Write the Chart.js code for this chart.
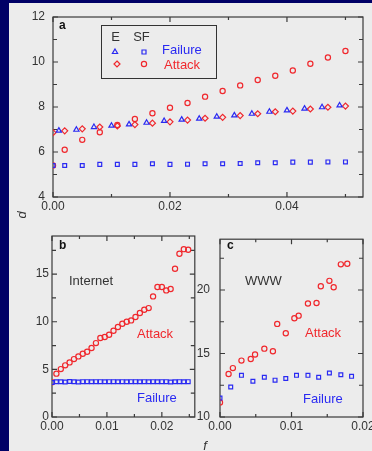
<!DOCTYPE html>
<html>
<head>
<meta charset="utf-8">
<script src="https://cdn.jsdelivr.net/npm/chart.js@4.4.1/dist/chart.umd.min.js"></script>
<style>
  html, body { margin: 0; padding: 0; }
  body { width: 372px; height: 451px; background: #000066; position: relative; overflow: hidden; }
  #paper { position: absolute; left: 9px; top: 3px; right: 0; bottom: 0; background: #ececec; }
  canvas { position: absolute; }
</style>
</head>
<body>
<div id="paper"></div>
<canvas id="panelA" width="372" height="222" style="left:0;top:0"></canvas>
<canvas id="panelB" width="200" height="229" style="left:0;top:222px"></canvas>
<canvas id="panelC" width="197" height="229" style="left:188px;top:222px"></canvas>
<script>
// panel a: exponential (E) vs scale-free (SF) network
const aFailF = [0.001, 0.004, 0.007, 0.010, 0.013, 0.016, 0.019, 0.022, 0.025, 0.028, 0.031, 0.034, 0.037, 0.040, 0.043, 0.046, 0.049]
const aEFailure = [6.95, 6.99, 7.11, 7.17, 7.23, 7.30, 7.38, 7.44, 7.48, 7.57, 7.63, 7.70, 7.79, 7.85, 7.93, 7.99, 8.07]
const aF = [0, 0.002, 0.005, 0.008, 0.011, 0.014, 0.017, 0.020, 0.023, 0.026, 0.029, 0.032, 0.035, 0.038, 0.041, 0.044, 0.047, 0.050]
const aEAttack = [6.86, 6.94, 7.03, 7.11, 7.16, 7.22, 7.28, 7.34, 7.42, 7.50, 7.54, 7.62, 7.70, 7.79, 7.82, 7.91, 7.99, 8.04]
const aSFFailure = [5.40, 5.40, 5.40, 5.45, 5.45, 5.45, 5.48, 5.45, 5.46, 5.48, 5.48, 5.49, 5.52, 5.52, 5.55, 5.55, 5.56, 5.56]
const aSFAttack = [5.40, 6.10, 6.54, 6.88, 7.20, 7.47, 7.72, 7.97, 8.18, 8.46, 8.71, 8.96, 9.20, 9.39, 9.62, 9.92, 10.20, 10.49]

// panel b: Internet
const bF = [0, 0.0008, 0.0016, 0.0024, 0.0032, 0.0040, 0.0048, 0.0056, 0.0064, 0.0072, 0.0080, 0.0088, 0.0096, 0.0104, 0.0112, 0.0120,
  0.0128, 0.0136, 0.0144, 0.0152, 0.0160, 0.0168, 0.0176, 0.0184, 0.0192, 0.0200, 0.0208, 0.0216, 0.0224, 0.0232, 0.0240, 0.0248]
const bAttack = [3.65, 4.55, 5.03, 5.42, 5.73, 6.08, 6.36, 6.64, 6.85, 7.24, 7.76, 8.29, 8.39, 8.64, 9.06, 9.44,
  9.79, 10.00, 10.14, 10.49, 10.91, 11.26, 11.43, 12.66, 13.64, 13.64, 13.29, 13.43, 15.56, 17.13, 17.62, 17.55]
const bFailure = [3.62, 3.70, 3.70, 3.68, 3.72, 3.70, 3.68, 3.71, 3.71, 3.70, 3.71, 3.71, 3.70, 3.71, 3.71, 3.70,
  3.71, 3.70, 3.71, 3.71, 3.70, 3.71, 3.70, 3.71, 3.70, 3.71, 3.71, 3.68, 3.70, 3.71, 3.70, 3.71]

// panel c: WWW
const cAttackF = [0, 0.0012, 0.0018, 0.0030, 0.0043, 0.0049, 0.0062, 0.0074, 0.0080, 0.0092, 0.0104, 0.0110, 0.0123, 0.0135, 0.0141, 0.0153, 0.0159, 0.0169, 0.0178]
const cAttack = [11.15, 13.38, 13.85, 14.44, 14.57, 14.92, 15.38, 15.18, 17.33, 16.60, 17.78, 17.98, 18.94, 18.98, 20.30, 20.72, 20.22, 22.02, 22.07]
const cFailF = [0, 0.0015, 0.0030, 0.0046, 0.0062, 0.0077, 0.0092, 0.0107, 0.0123, 0.0138, 0.0153, 0.0169, 0.0184]
const cFailure = [11.49, 12.36, 13.28, 12.82, 13.13, 12.90, 13.03, 13.28, 13.28, 13.13, 13.46, 13.33, 13.20]

const RED = '#f0282d'
const BLUE = '#2a2af2'
const INK = '#333'
const FONT = '"Liberation Sans", Arial, sans-serif'

const pts = (xs, ys) => xs.map((x, i) => ({ x: x, y: ys[i] }))

const series = (xs, ys, color, style, r) => ({
    data: pts(xs, ys),
    pointStyle: style,
    pointRadius: r,
    pointBorderColor: color,
    pointBackgroundColor: 'rgba(0,0,0,0)',
    pointBorderWidth: 1.2,
    showLine: false
})

// label only every "major" step, keep the rest as minor ticks
const majorEvery = (step, dec) => (v) => {
    const k = v / step
    return Math.abs(k - Math.round(k)) < 1e-6 ? v.toFixed(dec) : ''
}

const axis = (min, max, step, major, dec, pad, fit) => ({
    type: 'linear',
    min: min,
    max: max,
    grid: { display: false, drawTicks: false },
    border: { display: false },
    afterFit: fit,
    ticks: {
        stepSize: step,
        includeBounds: false,
        autoSkip: false,
        maxRotation: 0,
        padding: pad,
        color: INK,
        font: { family: FONT, size: 12 },
        callback: majorEvery(major, dec)
    }
})

// frame with inward ticks on all four sides
const frame = {
    id: 'frame',
    beforeDatasetsDraw(chart) {
        const { ctx, chartArea: a, scales: { x, y } } = chart
        ctx.save()
        ctx.strokeStyle = '#3a3a3a'
        ctx.lineWidth = 1.2
        ctx.strokeRect(a.left, a.top, a.right - a.left, a.bottom - a.top)
        ctx.beginPath()
        x.ticks.forEach(t => {
            const px = x.getPixelForValue(t.value)
            const len = t.label !== '' ? 5 : 3
            ctx.moveTo(px, a.bottom); ctx.lineTo(px, a.bottom - len)
            ctx.moveTo(px, a.top); ctx.lineTo(px, a.top + len)
        })
        y.ticks.forEach(t => {
            const py = y.getPixelForValue(t.value)
            const len = t.label !== '' ? 5 : 4
            ctx.moveTo(a.left, py); ctx.lineTo(a.left + len, py)
            ctx.moveTo(a.right, py); ctx.lineTo(a.right - len, py)
        })
        ctx.stroke()
        ctx.restore()
    }
}

const notes = {
    id: 'notes',
    afterDraw(chart, args, opts) {
        const ctx = chart.ctx
        ctx.save()
        ctx.textBaseline = 'middle'
        ;(opts.items || []).forEach(n => {
            ctx.save()
            ctx.fillStyle = n.color || INK
            ctx.font = n.font || ('13px ' + FONT)
            ctx.textAlign = n.align || 'left'
            ctx.translate(n.x, n.y)
            if (n.rot) ctx.rotate(n.rot)
            ctx.fillText(n.text, 0, 0)
            ctx.restore()
        })
        if (opts.legend) opts.legend(ctx)
        ctx.restore()
    }
}

const boldFont = 'bold 12px ' + FONT
const italFont = 'italic 13px ' + FONT

function marker(ctx, style, x, y, color) {
    ctx.strokeStyle = color
    ctx.lineWidth = 1.2
    ctx.beginPath()
    if (style === 'triangle') {
        ctx.moveTo(x, y - 3); ctx.lineTo(x + 2.6, y + 1.5); ctx.lineTo(x - 2.6, y + 1.5); ctx.closePath()
    } else if (style === 'rect') {
        ctx.rect(x - 2, y - 2, 4, 4)
    } else if (style === 'rectRot') {
        ctx.moveTo(x, y - 3); ctx.lineTo(x + 3, y); ctx.lineTo(x, y + 3); ctx.lineTo(x - 3, y); ctx.closePath()
    } else {
        ctx.arc(x, y, 2.6, 0, Math.PI * 2)
    }
    ctx.stroke()
}

function legendA(ctx) {
    ctx.strokeStyle = '#333'
    ctx.lineWidth = 1
    ctx.strokeRect(101.5, 25.5, 115, 53)
    ctx.font = '13px ' + FONT
    ctx.fillStyle = INK
    ctx.textAlign = 'center'
    ctx.fillText('E', 115.5, 37)
    ctx.fillText('SF', 141.5, 37)
    marker(ctx, 'triangle', 115, 52, BLUE)
    marker(ctx, 'rect', 144, 52, BLUE)
    marker(ctx, 'rectRot', 117, 64, RED)
    marker(ctx, 'circle', 144, 64, RED)
    ctx.textAlign = 'left'
    ctx.fillStyle = BLUE
    ctx.fillText('Failure', 162, 50)
    ctx.fillStyle = RED
    ctx.fillText('Attack', 164, 65)
}

const base = (pad, items, legend) => ({
    responsive: false,
    animation: false,
    layout: { padding: pad },
    plugins: {
        legend: { display: false },
        tooltip: { enabled: false },
        notes: { items: items, legend: legend }
    }
})

new Chart(document.getElementById('panelA'), {
    type: 'scatter',
    data: {
        datasets: [
            series(aFailF, aEFailure, BLUE, 'triangle', 3),
            series(aF, aSFFailure, BLUE, 'rect', 2.7),
            series(aF, aEAttack, RED, 'rectRot', 3),
            series(aF, aSFAttack, RED, 'circle', 2.6)
        ]
    },
    options: Object.assign(base({ left: 13, right: 9, top: 17, bottom: 5 }, [
        { text: 'a', x: 59, y: 26, font: boldFont, color: '#111' },
        { text: 'd', x: 22, y: 215, font: italFont, rot: -Math.PI / 2, align: 'center' }
    ], legendA), {
        scales: {
            x: axis(0, 0.053, 0.01, 0.02, 2, 2, s => { s.height = 20 }),
            y: axis(4, 12, 1, 2, 0, 8, s => { s.width = 40 })
        }
    }),
    plugins: [frame, notes]
})

new Chart(document.getElementById('panelB'), {
    type: 'scatter',
    data: {
        datasets: [
            series(bF, bFailure, BLUE, 'rect', 2.7),
            series(bF, bAttack, RED, 'circle', 2.6)
        ]
    },
    options: Object.assign(base({ left: 12, right: 5, top: 14, bottom: 14 }, [
        { text: 'b', x: 59, y: 24, font: boldFont, color: '#111' },
        { text: 'Internet', x: 69, y: 59 },
        { text: 'Attack', x: 137, y: 112, color: RED },
        { text: 'Failure', x: 137, y: 176, color: BLUE }
    ]), {
        scales: {
            x: axis(0, 0.026, 0.005, 0.01, 2, 2, s => { s.height = 20 }),
            y: axis(0, 19, 2.5, 5, 0, 3, s => { s.width = 40 })
        }
    }),
    plugins: [frame, notes]
})

new Chart(document.getElementById('panelC'), {
    type: 'scatter',
    data: {
        datasets: [
            series(cFailF, cFailure, BLUE, 'rect', 2.7),
            series(cAttackF, cAttack, RED, 'circle', 2.6)
        ]
    },
    options: Object.assign(base({ left: 0, right: 22, top: 14, bottom: 14 }, [
        { text: 'c', x: 39, y: 24, font: boldFont, color: '#111' },
        { text: 'WWW', x: 57, y: 59 },
        { text: 'Attack', x: 117, y: 111, color: RED },
        { text: 'Failure', x: 115, y: 177, color: BLUE },
        { text: 'f', x: 17, y: 224, font: italFont, align: 'center' }
    ]), {
        scales: {
            x: axis(0, 0.02, 0.005, 0.01, 2, 2, s => { s.height = 20 }),
            y: axis(10, 24, 2.5, 5, 0, 10, s => { s.width = 32 })
        }
    }),
    plugins: [frame, notes]
})
</script>
</body>
</html>
